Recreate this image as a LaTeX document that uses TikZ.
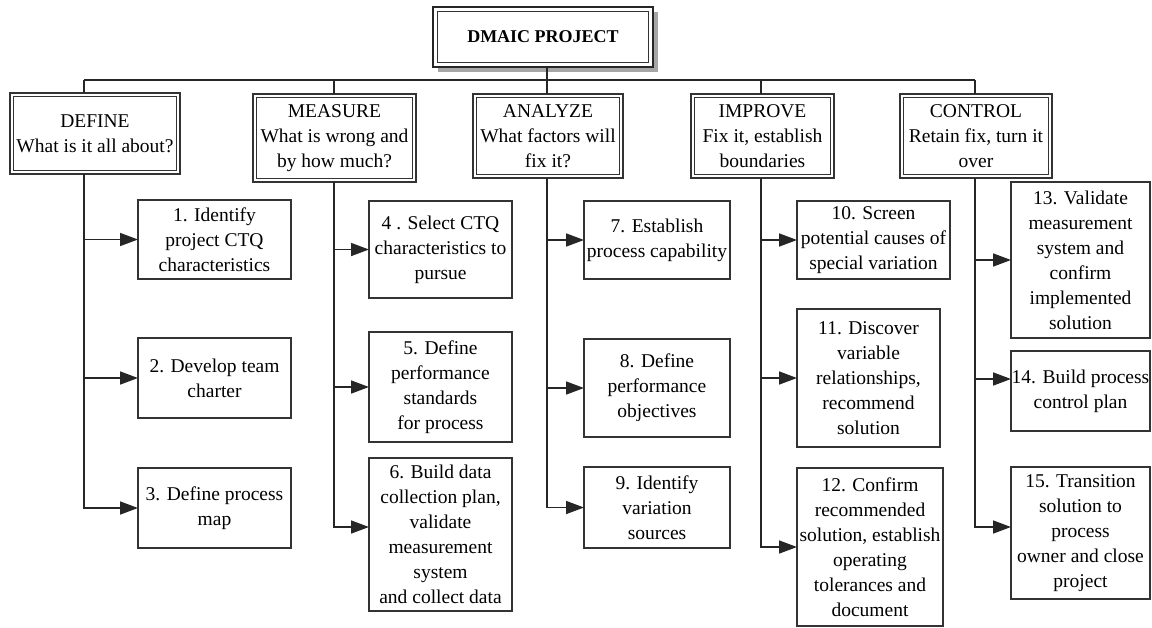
\documentclass[tikz,border=0pt]{standalone}
\usepackage{fontspec}
\setmainfont{Liberation Serif}
\usetikzlibrary{arrows.meta,shadows}

\tikzset{
  txt/.style={font=\fontsize{19.5pt}{25pt}\selectfont, align=center, text=black},
  stepbox/.style={txt, draw=black!80, line width=1.4pt, fill=white,
    inner sep=0pt, outer sep=0pt},
  headbox/.style={txt, draw=black!80, line width=1.9pt, fill=white,
    inner sep=0pt, outer sep=0pt},
  topbox/.style={draw=black!85, line width=2.8pt, fill=white,
    inner sep=0pt, outer sep=0pt,
    font=\fontsize{18pt}{22pt}\selectfont\bfseries,
    drop shadow={shadow xshift=5pt, shadow yshift=-5pt, fill=black!35, opacity=1}},
  innerline/.style={draw=black!80, line width=1pt},
  link/.style={draw=black!85, line width=1.6pt},
  arr/.style={link, -{Triangle[length=18pt, width=13pt]}},
  sz/.style 2 args={minimum width=#1pt, minimum height=#2pt}
}

\begin{document}
\begin{tikzpicture}[x=1pt, y=-1pt]
\useasboundingbox (0,0) rectangle (1152,627);

% project box
\node[topbox, sz={220}{60}] (top) at (543,37) {DMAIC PROJECT};
\draw[innerline, line width=1.2pt] ([xshift=4.5pt,yshift=-4.5pt]top.north west)
  rectangle ([xshift=-4.5pt,yshift=4.5pt]top.south east);

% phase boxes
\node[headbox, sz={170}{81}] (define)  at (95,133.5)  {DEFINE\\What is it all about?};
\node[headbox, sz={163}{88}] (measure) at (334.5,138) {MEASURE\\What is wrong and\\by how much?};
\node[headbox, sz={150}{84}] (analyze) at (548,136)   {ANALYZE\\What factors will\\fix it?};
\node[headbox, sz={143}{84}] (improve) at (762.5,136) {IMPROVE\\Fix it, establish\\boundaries};
\node[headbox, sz={152}{84}] (control) at (976,136)   {CONTROL\\Retain fix, turn it\\over};
\foreach \n in {define,measure,analyze,improve,control}
  \draw[innerline] ([xshift=3.6pt,yshift=-3.6pt]\n.north west)
    rectangle ([xshift=-3.6pt,yshift=3.6pt]\n.south east);

% step boxes
\node[stepbox, sz={153}{79}]  (c1)  at (214.5,239.5) {1. Identify\\project CTQ\\characteristics};
\node[stepbox, sz={153}{80}]  (c2)  at (214.5,378)   {2. Develop team\\charter};
\node[stepbox, sz={153}{80}]  (c3)  at (214.5,508)   {3. Define process\\map};
\node[stepbox, sz={143}{97}]  (c4)  at (440.5,249.5) {4 . Select CTQ\\characteristics to\\pursue};
\node[stepbox, sz={143}{110}] (c5)  at (440.5,387)   {5. Define\\performance\\standards\\for process};
\node[stepbox, sz={143}{153}] (c6)  at (440.5,534.5) {6. Build data\\collection plan,\\validate\\measurement\\system\\and collect data};
\node[stepbox, sz={146}{78}]  (c7)  at (657,240)     {7. Establish\\process capability};
\node[stepbox, sz={146}{98}]  (c8)  at (657,388)     {8. Define\\performance\\objectives};
\node[stepbox, sz={146}{81}]  (c9)  at (657,507.5)   {9. Identify\\variation\\sources};
\node[stepbox, sz={153}{78}]  (c10) at (873.5,240)   {10. Screen\\potential causes of\\special variation};
\node[stepbox, sz={143}{138}] (c11) at (868.5,378)   {11. Discover\\variable\\relationships,\\recommend\\solution};
\node[stepbox, sz={146}{158}] (c12) at (870,547)     {12. Confirm\\recommended\\solution, establish\\operating\\tolerances and\\document};
\node[stepbox, sz={139}{156}] (c13) at (1080.5,260)  {13. Validate\\measurement\\system and\\confirm\\implemented\\solution};
\node[stepbox, sz={139}{80}]  (c14) at (1080.5,391)  {14. Build process\\control plan};
\node[stepbox, sz={139}{132}] (c15) at (1080.5,533)  {15. Transition\\solution to\\process\\owner and close\\project};

% bus line and drops
\coordinate (xd) at (84,80);
\coordinate (xm) at (334,80);
\coordinate (xa) at (547,80);
\coordinate (xi) at (761,80);
\coordinate (xc) at (975,80);
\draw[link] (xd) -- (xc);
\draw[link] (top.south -| xa) -- (analyze.north -| xa);
\foreach \p/\n in {xd/define,xm/measure,xi/improve,xc/control}
  \draw[link] (\p) -- (\n.north -| \p);

% DEFINE column
\draw[arr] (define.south -| xd) |- (c3.west);
\draw[arr] (c1.west -| xd) -- (c1.west);
\draw[arr] (c2.west -| xd) -- (c2.west);

% MEASURE column
\draw[arr] (measure.south -| xm) |- ([yshift=7.5pt]c6.west);
\draw[arr] (c4.west -| xm) -- (c4.west);
\draw[arr] (c5.west -| xm) -- (c5.west);

% ANALYZE column
\draw[arr] (analyze.south -| xa) |- (c9.west);
\draw[arr] (c7.west -| xa) -- (c7.west);
\draw[arr] (c8.west -| xa) -- (c8.west);

% IMPROVE column
\draw[arr] (improve.south -| xi) |- (c12.west);
\draw[arr] (c10.west -| xi) -- (c10.west);
\draw[arr] (c11.west -| xi) -- (c11.west);

% CONTROL column
\draw[arr] (control.south -| xc) |- ([yshift=6pt]c15.west);
\draw[arr] (c13.west -| xc) -- (c13.west);
\draw[arr] ([yshift=12pt]c14.west -| xc) -- ([yshift=12pt]c14.west);
\end{tikzpicture}
\end{document}
